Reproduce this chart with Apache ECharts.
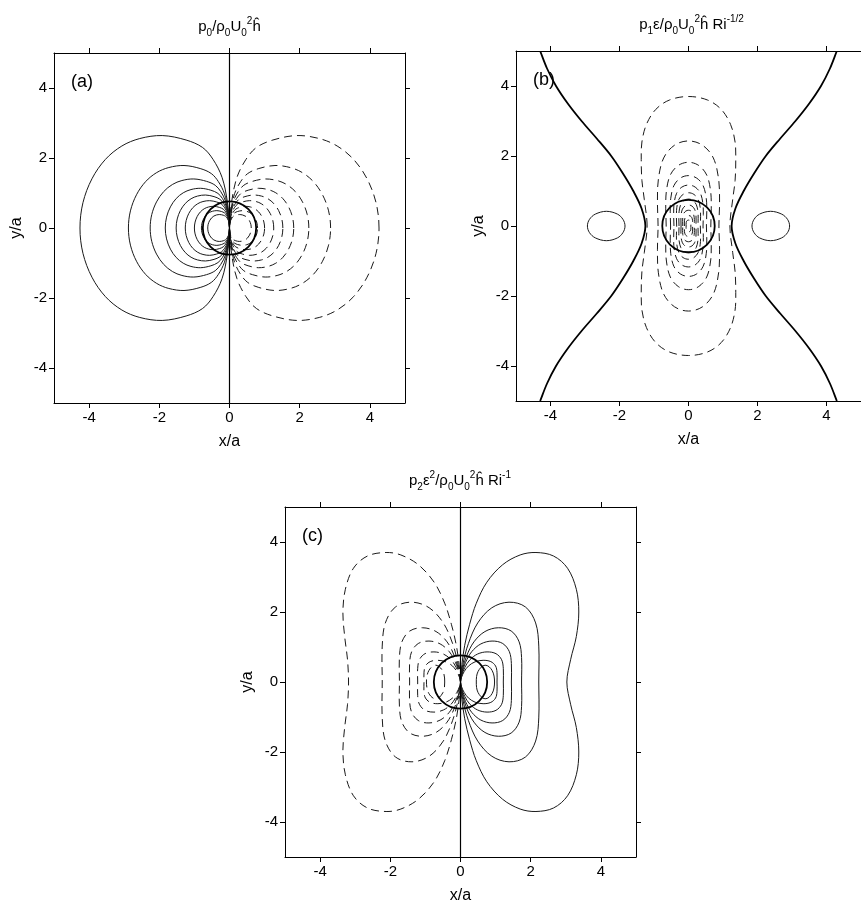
<!DOCTYPE html>
<html>
<head>
<meta charset="utf-8">
<script src="https://cdn.jsdelivr.net/npm/echarts@6/dist/echarts.min.js"></script>
<style>
html, body { margin: 0; padding: 0; background: #fff; }
#main { width: 861px; height: 909px; }
</style>
</head>
<body>
<div id="main"></div>
<script>
// shared axis setup
const axisRange = [-5, 5];
const axisTicks = [-4, -2, 0, 2, 4];
const cylinderRadius = 0.76;

// (a) p0 -- outer contour, normalised by its x extent
const aShape = [[-1, 0], [-0.98, 0.17], [-0.92, 0.33], [-0.83, 0.46], [-0.72, 0.55], [-0.6, 0.6],
  [-0.45, 0.62], [-0.29, 0.59], [-0.18, 0.54], [-0.11, 0.46], [-0.05, 0.34], [-0.015, 0.18], [0, 0]];
// x extent of every contour (left = solid, right = dashed)
const aExtents = [4.26, 2.88, 2.26, 1.83, 1.52, 1.26, 1.0, 0.8, 0.62];

// (b) p1 -- thick zero line, upper half of the left branch
const bZero = [[-1.25, 0], [-1.36, 0.5], [-1.6, 1.0], [-1.9, 1.5], [-2.24, 2.0], [-2.66, 2.5],
  [-3.1, 3.0], [-3.5, 3.5], [-3.84, 4.0], [-4.1, 4.5], [-4.3, 5.0]];
// small positive lobe, upper half (left one)
const bLobe = [[-2.93, 0], [-2.87, 0.19], [-2.7, 0.34], [-2.38, 0.42], [-2.06, 0.34], [-1.9, 0.19], [-1.84, 0]];
// outermost negative contour, quarter from top to waist
const bOuter = [[0, 3.7], [0.55, 3.6], [0.95, 3.33], [1.22, 2.9], [1.35, 2.4], [1.37, 1.9],
  [1.35, 1.3], [1.28, 0.75], [1.2, 0]];
// inner negative contours: quarter template, half heights and half widths
const bOvalShape = [[0, 1], [0.45, 0.95], [0.8, 0.8], [0.97, 0.55], [1, 0.28], [0.98, 0]];
const bOvalHeights = [2.43, 1.82, 1.44, 1.17, 0.95, 0.77, 0.6, 0.45, 0.3, 0.17];
const bOvalWidths = [0.9, 0.66, 0.53, 0.43, 0.35, 0.28, 0.22, 0.17, 0.12, 0.07];

// (c) p2 -- outer contours, upper half from origin to waist
const cOuterPos = [[0, 0], [0.04, 0.5], [0.12, 1.05], [0.26, 1.65], [0.45, 2.25], [0.75, 2.85],
  [1.2, 3.35], [1.7, 3.63], [2.15, 3.7], [2.65, 3.6], [3.05, 3.25], [3.3, 2.65], [3.37, 2.0],
  [3.3, 1.3], [3.14, 0.65], [3.03, 0]];
const cOuterNeg = [[0, 0], [-0.04, 0.5], [-0.12, 1.05], [-0.26, 1.65], [-0.45, 2.25], [-0.75, 2.85],
  [-1.2, 3.35], [-1.7, 3.63], [-2.12, 3.7], [-2.65, 3.6], [-3.05, 3.25], [-3.28, 2.65], [-3.35, 2.0],
  [-3.3, 1.3], [-3.22, 0.65], [-3.19, 0]];
// inner contours: template (by right extent / top) plus the sizes
const cShape = [[0, 0], [0.03, 0.22], [0.1, 0.48], [0.22, 0.74], [0.4, 0.93], [0.62, 1],
  [0.83, 0.94], [0.96, 0.74], [1, 0.45], [1, 0]];
const cTops = [2.28, 1.55, 1.17, 0.86, 0.62];
const cRights = [2.23, 1.74, 1.45, 1.22, 1.04];
// small closed loop next to the cylinder
const cLoop = [[0.45, 0], [0.5, 0.3], [0.7, 0.48], [0.9, 0.33], [0.97, 0]];

// helpers
const flipX = pts => pts.map(p => [-p[0], p[1]]);
const scale = (pts, sx, sy) => pts.map(p => [p[0] * sx, p[1] * sy]);
// upper half (both ends on y=0) -> closed loop
function halfToLoop(upper) {
  const lower = upper.slice().reverse().slice(1).map(p => [p[0], -p[1]]);
  return upper.concat(lower);
}
// quarter (top -> right waist) -> upper half
function quarterToHalf(q) {
  return flipX(q.slice().reverse()).concat(q.slice(1));
}
// open branch, upper half starting on y=0 -> full branch
function mirrorBranch(upper) {
  return upper.slice().reverse().map(p => [p[0], -p[1]]).concat(upper.slice(1));
}

// smooth path through pixel points (closed when first == last)
function splinePath(px) {
  let pts = px.slice();
  const f = pts[0], l = pts[pts.length - 1];
  const closed = Math.abs(f[0] - l[0]) < 1e-6 && Math.abs(f[1] - l[1]) < 1e-6;
  if (closed) pts.pop();
  const n = pts.length;
  const get = i => closed ? pts[(i + n) % n] : pts[Math.max(0, Math.min(n - 1, i))];
  const tan = i => {
    const a = get(i - 1), b = get(i + 1);
    const dx = b[0] - a[0], dy = b[1] - a[1], len = Math.hypot(dx, dy) || 1;
    return [dx / len, dy / len];
  };
  let d = 'M' + pts[0][0].toFixed(2) + ' ' + pts[0][1].toFixed(2);
  const segs = closed ? n : n - 1;
  for (let i = 0; i < segs; i++) {
    const p = get(i), q = get(i + 1);
    const len = Math.hypot(q[0] - p[0], q[1] - p[1]) / 3;
    const t0 = tan(i), t1 = tan(i + 1);
    d += ' C' + (p[0] + t0[0] * len).toFixed(2) + ' ' + (p[1] + t0[1] * len).toFixed(2) + ' ' +
      (q[0] - t1[0] * len).toFixed(2) + ' ' + (q[1] - t1[1] * len).toFixed(2) + ' ' +
      q[0].toFixed(2) + ' ' + q[1].toFixed(2);
  }
  if (closed) d += ' Z';
  return d;
}

const thin = { stroke: '#1a1a1a', lineWidth: 1 };
const dash = { stroke: '#1a1a1a', lineWidth: 1, lineDash: [8, 5] };
const thick = { stroke: '#000', lineWidth: 1.8 };

function contour(panel, data, style) {
  return {
    type: 'custom', coordinateSystem: 'cartesian2d', xAxisIndex: panel * 2, yAxisIndex: panel * 2,
    data: data, silent: true, clip: true,
    renderItem: function (params, api) {
      if (params.dataIndex !== 0) return null;
      const px = data.map(p => api.coord(p));
      return { type: 'path', shape: { pathData: splinePath(px) },
        style: Object.assign({ fill: 'none' }, style) };
    }
  };
}
function cylinder(panel) {
  return {
    type: 'custom', coordinateSystem: 'cartesian2d', xAxisIndex: panel * 2, yAxisIndex: panel * 2,
    data: [[0, 0, cylinderRadius]], silent: true, z: 5,
    renderItem: function (params, api) {
      const c = api.coord([api.value(0), api.value(1)]);
      const r = api.size([api.value(2), 0])[0];
      return { type: 'circle', shape: { cx: c[0], cy: c[1], r: r },
        style: { fill: 'none', stroke: '#000', lineWidth: 1.8 } };
    }
  };
}
function centreLine(panel) {
  return {
    type: 'line', xAxisIndex: panel * 2, yAxisIndex: panel * 2, data: [], silent: true,
    markLine: { silent: true, symbol: 'none', label: { show: false }, animation: false,
      lineStyle: { color: '#000', width: 1.2, type: 'solid' }, data: [{ xAxis: 0 }] }
  };
}

const series = [];
// panel a
aExtents.forEach(R => {
  const loop = halfToLoop(scale(aShape, R, R));
  series.push(contour(0, loop, thin));
  series.push(contour(0, flipX(loop), dash));
});
series.push(centreLine(0), cylinder(0));

// panel b
const zeroLeft = mirrorBranch(bZero);
series.push(contour(1, zeroLeft, thick), contour(1, flipX(zeroLeft), thick));
const lobe = halfToLoop(bLobe);
series.push(contour(1, lobe, thin), contour(1, flipX(lobe), thin));
series.push(contour(1, halfToLoop(quarterToHalf(bOuter)), dash));
bOvalHeights.forEach((h, i) => {
  series.push(contour(1, halfToLoop(quarterToHalf(scale(bOvalShape, bOvalWidths[i], h))), dash));
});
series.push(cylinder(1));

// panel c
series.push(contour(2, halfToLoop(cOuterPos), thin));
series.push(contour(2, halfToLoop(cOuterNeg), dash));
cTops.forEach((t, i) => {
  const loop = halfToLoop(scale(cShape, cRights[i], t));
  series.push(contour(2, loop, thin));
  series.push(contour(2, flipX(loop), dash));
});
const smallLoop = halfToLoop(cLoop);
series.push(contour(2, smallLoop, thin), contour(2, flipX(smallLoop), dash));
series.push(centreLine(2), cylinder(2));

// layout
const font = '"Liberation Sans", Arial, sans-serif';
const grids = [
  { left: 54, top: 53, width: 351, height: 350 },
  { left: 516, top: 51, width: 351, height: 350 },
  { left: 285, top: 507, width: 351, height: 350 }
];
const xAxes = [], yAxes = [];
grids.forEach((g, i) => {
  const line = { show: true, onZero: false, lineStyle: { color: '#000', width: 1 } };
  const tick = { show: true, inside: false, length: 5, customValues: axisTicks, lineStyle: { color: '#000' } };
  const label = { show: true, customValues: axisTicks, color: '#000', fontSize: 15, fontFamily: font, margin: 7 };
  const common = { type: 'value', gridIndex: i, min: axisRange[0], max: axisRange[1],
    splitLine: { show: false }, axisLine: line, axisTick: tick };
  xAxes.push(Object.assign({}, common, { position: 'bottom', axisLabel: label,
    name: 'x/a', nameLocation: 'middle', nameGap: 31,
    nameTextStyle: { color: '#000', fontSize: 16, fontFamily: font } }));
  xAxes.push(Object.assign({}, common, { position: 'top', axisLabel: { show: false } }));
  yAxes.push(Object.assign({}, common, { position: 'left', axisLabel: label,
    name: 'y/a', nameLocation: 'middle', nameGap: 29,
    nameTextStyle: { color: '#000', fontSize: 16, fontFamily: font } }));
  yAxes.push(Object.assign({}, common, { position: 'right', axisLabel: { show: false } }));
});

const rich = {
  t: { fontSize: 15, fontFamily: font, fill: '#000', lineHeight: 22, verticalAlign: 'middle' },
  s: { fontSize: 10, fontFamily: font, fill: '#000', lineHeight: 12, verticalAlign: 'bottom' },
  u: { fontSize: 10, fontFamily: font, fill: '#000', lineHeight: 12, verticalAlign: 'top' }
};
const titles = [
  { x: 229.5, y: 27, text: '{t|p}{s|0}{t|/ρ}{s|0}{t|U}{s|0}{u|2}{t|ĥ}' },
  { x: 691.5, y: 25, text: '{t|p}{s|1}{t|ε/ρ}{s|0}{t|U}{s|0}{u|2}{t|ĥ Ri}{u|-1/2}' },
  { x: 460, y: 481, text: '{t|p}{s|2}{t|ε}{u|2}{t|/ρ}{s|0}{t|U}{s|0}{u|2}{t|ĥ Ri}{u|-1}' }
];
const letters = ['(a)', '(b)', '(c)'];
const graphic = titles.map(tt => ({
  type: 'text', x: tt.x, y: tt.y, silent: true,
  style: { text: tt.text, rich: rich, align: 'center', verticalAlign: 'middle' }
})).concat(letters.map((l, i) => ({
  type: 'text', x: grids[i].left + 17, y: grids[i].top + 29, silent: true,
  style: { text: l, font: '18px ' + font, fill: '#000', align: 'left', verticalAlign: 'middle' }
})));

const chart = echarts.init(document.getElementById('main'), null, { renderer: 'canvas' });
chart.setOption({
  animation: false,
  backgroundColor: '#fff',
  grid: grids,
  xAxis: xAxes,
  yAxis: yAxes,
  series: series,
  graphic: graphic
});
</script>
</body>
</html>
